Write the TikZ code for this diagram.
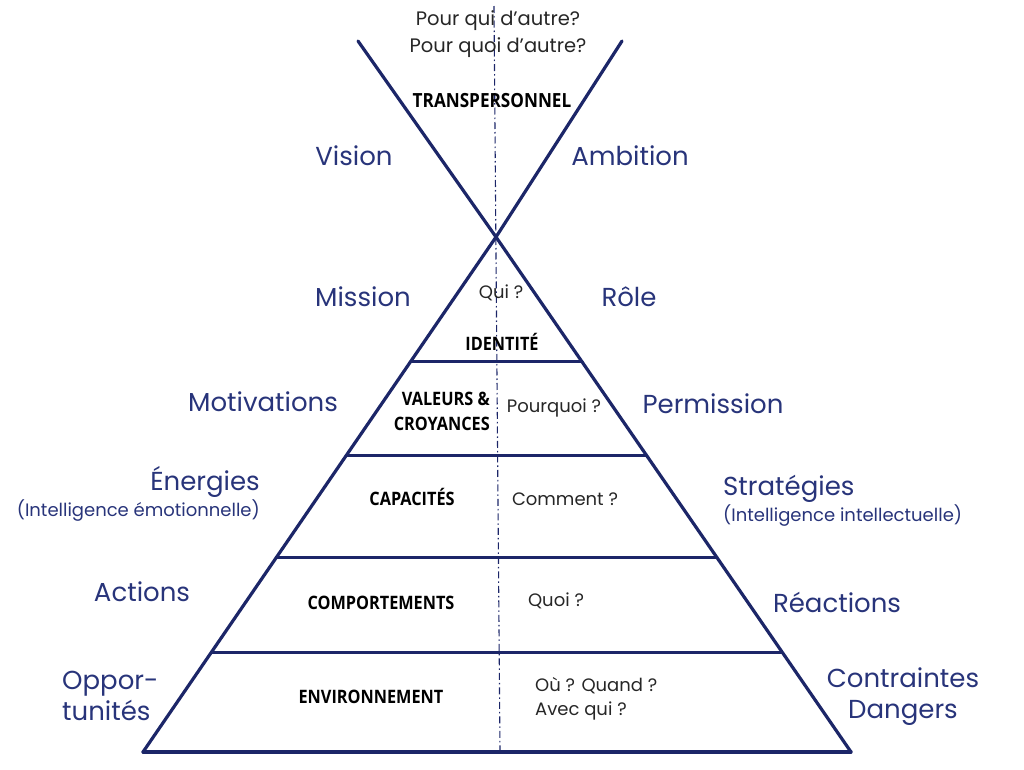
\documentclass[tikz,border=0pt]{standalone}
\usepackage{fontspec}
\setmainfont{Poppins}
\newfontfamily\levelfont[FakeStretch=0.88]{Open Sans}
\usepackage{tikz}
\usetikzlibrary{calc,positioning}
\definecolor{navy}{RGB}{28,38,104}
\definecolor{labelblue}{RGB}{40,52,122}

\begin{document}
\begin{tikzpicture}[x=1pt, y=-1pt,
    edge/.style={navy, line width=3.2pt, line cap=round},
    axis/.style={navy, line width=1.1pt, dash pattern=on 7pt off 3pt on 1.5pt off 3pt},
    level/.style={font=\levelfont\bfseries\fontsize{18.5}{25}\selectfont, align=center, inner sep=1pt},
    question/.style={font=\fontsize{18}{24}\selectfont, text=black!85, align=left, inner sep=1pt},
    side/.style={font=\fontsize{26}{31}\selectfont, text=labelblue, align=center, inner sep=1pt},
    sub/.style={font=\fontsize{18}{22}\selectfont, text=labelblue, inner sep=1pt}]
    \useasboundingbox (0,0) rectangle (1024,769);

    % frame of the pyramid
    \coordinate (top) at (496,237);
    \coordinate (tl) at (358,41);
    \coordinate (tr) at (622,41);
    \coordinate (bl) at (143,752);
    \coordinate (br) at (851,752);
    \coordinate (ax1) at (494,6);
    \coordinate (ax2) at (500,752);

    \draw[axis] (ax1) -- (ax2);
    \draw[edge] (tl) -- (top) -- (bl);
    \draw[edge] (tr) -- (top) -- (br);
    \draw[edge] (bl) -- (br);
    \foreach \t/\n in {0.2422/a, 0.4244/b, 0.622/c, 0.806/d} {
        \coordinate (l\n) at ($(top)!\t!(bl)$);
        \coordinate (r\n) at ($(top)!\t!(br)$);
        \draw[edge] (l\n) -- (r\n);
    }

    % levels
    \node[level, font=\levelfont\bfseries\fontsize{19.5}{25}\selectfont] (trans) at (492,101) {TRANSPERSONNEL};
    \node[level] (ident) at (502,342) {IDENTITÉ};
    \node[level, align=right, anchor=east] (val) at (491,411) {VALEURS \&\\CROYANCES};
    \node[level] (capa) at (412,497) {CAPACITÉS};
    \node[level] (comp) at (381,603) {COMPORTEMENTS};
    \node[level] (env) at (371,697) {ENVIRONNEMENT};

    % questions
    \node[question, align=center, font=\fontsize{19.5}{27}\selectfont] (pourqui) at (498,34) {Pour qui d’autre?\\Pour quoi d’autre?};
    \node[question] (qui) at (501,293) {Qui ?};
    \node[question] (pourquoi) at (554,408) {Pourquoi ?};
    \node[question] (comment) at (565,499) {Comment ?};
    \node[question] (quoi) at (556,601) {Quoi ?};
    \node[question, anchor=west] (ou) at (534,699) {Où ? Quand ?\\Avec qui ?};

    % side labels
    \node[side] (vision) at (354,156) {Vision};
    \node[side] (ambition) at (630,156) {Ambition};
    \node[side] (mission) at (363,297) {Mission};
    \node[side] (role) at (629,297) {Rôle};
    \node[side] (motiv) at (263,402) {Motivations};
    \node[side] (perm) at (713,404) {Permission};
    \node[side, anchor=east] (energ) at (261,482) {Énergies};
    \node[sub, below left=0pt and 0pt of energ.south east, anchor=north east] (emo) {(Intelligence émotionnelle)};
    \node[side, anchor=west] (strat) at (722,489) {Stratégies};
    \node[sub, anchor=north west] (intel) at (strat.south west) {(Intelligence intellectuelle)};
    \node[side] (actions) at (142,592) {Actions};
    \node[side] (react) at (837,602) {Réactions};
    \node[side, align=left, anchor=west] (oppor) at (61,696) {Oppor-\\tunités};
    \node[side] (contr) at (903,697) {Contraintes\\Dangers};
\end{tikzpicture}
\end{document}
